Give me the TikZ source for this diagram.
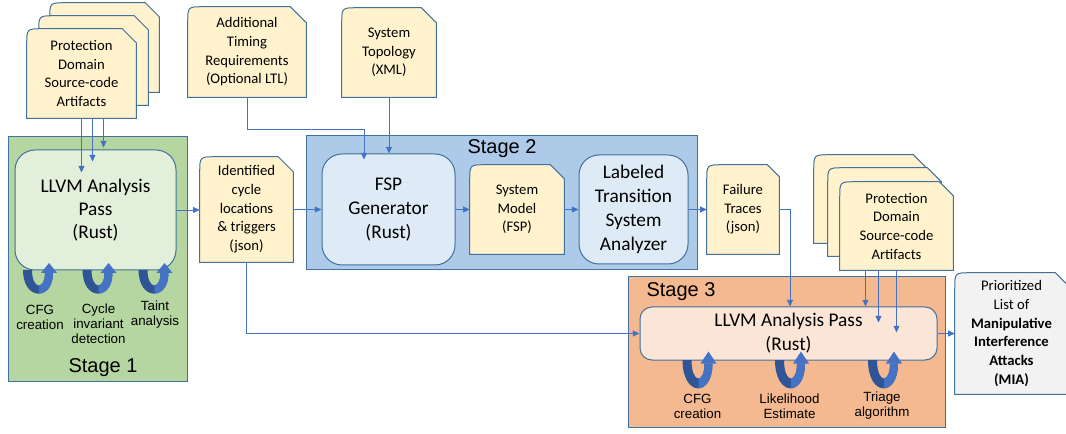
\documentclass[tikz,border=0pt]{standalone}
\usepackage{fontspec}
\setmainfont{Carlito}
\newfontfamily\arialf{Liberation Sans}
\usetikzlibrary{arrows.meta,calc}
\definecolor{bord}{HTML}{41719C}
\definecolor{arrc}{HTML}{4472C4}
\definecolor{docf}{HTML}{FFF2CC}
\definecolor{grayf}{HTML}{F2F2F2}
\definecolor{sonef}{HTML}{B5D6A0}
\definecolor{sonein}{HTML}{E2EFDA}
\definecolor{stwof}{HTML}{ADCBE9}
\definecolor{stwoin}{HTML}{DEEBF7}
\definecolor{sthreef}{HTML}{F4B990}
\definecolor{sthreein}{HTML}{FBE5D6}
\definecolor{ldark}{HTML}{2F5597}
\definecolor{llight}{HTML}{4472C4}
\pgfdeclarelayer{stagelayer}
\pgfdeclarelayer{doclayer}
\pgfsetlayers{stagelayer,doclayer,main}
\newcommand\docfont{\fontsize{11}{14}\selectfont}
\newcommand\bigfont{\fontsize{14.5}{17.5}\selectfont}
\newcommand\midfont{\fontsize{14.5}{18}\selectfont}
\newcommand\docoutline[3]{%
  \draw[docline,fill=#2] (#1.south west) -- ($(#1.north west)+(0,16)$) .. controls (#1.north west) .. ($(#1.north west)+(16,0)$) -- ($(#1.north east)+(-#3,0)$) -- ($(#1.north east)+(0,#3)$) -- (#1.south east) -- cycle;}
\tikzset{
  docline/.style={draw=bord,line width=0.75pt},
  doc/.style={rectangle,inner sep=0pt,align=center,font=\docfont},
  rbox/.style={rectangle,draw=bord,line width=0.75pt,rounded corners=15pt,inner sep=0pt,align=center,font=\midfont},
  stagebox/.style={rectangle,draw=bord,line width=0.75pt,inner sep=0pt},
  stagelbl/.style={font=\arialf\fontsize{15}{18}\selectfont,inner sep=0pt},
  looplbl/.style={font=\arialf\fontsize{10}{11.25}\selectfont,align=center,inner sep=0pt},
  arr/.style={draw=arrc,line width=0.6pt,-{Triangle[length=5pt,width=4.5pt]}},
  uturn/.pic={
    \fill[ldark] (-17,0) .. controls (-17,31) and (13,31) .. (13,3) -- (5,3) .. controls (5,20) and (-8,20) .. (-8,0) -- cycle;
    \begin{scope}
      \clip (-1,-10) rectangle (30,40);
      \fill[llight] (-17,0) .. controls (-17,31) and (13,31) .. (13,3) -- (5,3) .. controls (5,20) and (-8,20) .. (-8,0) -- cycle;
    \end{scope}
    \fill[llight] (1,3) -- (17,3) -- (9,-7) -- cycle;
  }
}
\begin{document}
\begin{tikzpicture}[x=0.75pt,y=-0.75pt]
\useasboundingbox (0,0) rectangle (1066,434);

% stage containers
\begin{pgfonlayer}{stagelayer}
\node[stagebox,fill=sonef,minimum width=134.25pt,minimum height=183pt] (stage1) at (97.5,259) {};
\node[stagebox,fill=stwof,minimum width=293.25pt,minimum height=100.5pt] (stage2) at (501.5,203) {};
\node[stagebox,fill=sthreef,minimum width=237.75pt,minimum height=112.5pt] (stage3) at (786.5,352) {};
\end{pgfonlayer}

\node[stagelbl] (s1lbl) at (103,368) {Stage 1};
\node[stagelbl] (s2lbl) at (502,149) {Stage 2};
\node[stagelbl] (s3lbl) at (681,292) {Stage 3};

% document nodes
\node[doc,minimum width=81.75pt,minimum height=66.75pt] (prot1c) at (104.5,47.5) {};
\node[doc,minimum width=81.75pt,minimum height=66.75pt] (prot1b) at (93.5,60.5) {};
\node[doc,minimum width=81.75pt,minimum height=66.75pt,text depth=-4pt] (prot1) at (81.5,73.5) {Protection\\Domain\\Source-code\\Artifacts};
\node[doc,minimum width=88.5pt,minimum height=67.5pt] (timing) at (247,52) {Additional\\Timing\\Requirements\\(Optional LTL)};
\node[doc,minimum width=70.5pt,minimum height=66.75pt] (topo) at (389,52.5) {System\\Topology\\(XML)};
\node[doc,minimum width=69.75pt,minimum height=78.75pt] (ident) at (246.5,209.5) {Identified\\cycle\\locations\\\& triggers\\(json)};
\node[doc,minimum width=70.5pt,minimum height=66.75pt] (sysmodel) at (517,209.5) {System\\Model\\(FSP)};
\node[doc,minimum width=54pt,minimum height=66.75pt] (failure) at (743,209.5) {Failure\\Traces\\(json)};
\node[doc,minimum width=84.75pt,minimum height=66pt] (prot2c) at (870.5,199) {};
\node[doc,minimum width=84.75pt,minimum height=66pt] (prot2b) at (884.5,212) {};
\node[doc,minimum width=84.75pt,minimum height=66pt] (prot2) at (896.5,226) {Protection\\Domain\\Source-code\\Artifacts};
\node[doc,minimum width=84.75pt,minimum height=90.75pt] (prior) at (1011.5,333.5) {Prioritized\\List of\\\textbf{Manipulative}\\\textbf{Interference}\\\textbf{Attacks}\\\textbf{(MIA)}};

\begin{pgfonlayer}{doclayer}
\docoutline{prot1c}{docf}{14}
\docoutline{prot1b}{docf}{14}
\docoutline{prot1}{docf}{14}
\docoutline{timing}{docf}{16}
\docoutline{topo}{docf}{15}
\docoutline{ident}{docf}{15}
\docoutline{sysmodel}{docf}{14}
\docoutline{failure}{docf}{12}
\docoutline{prot2c}{docf}{14}
\docoutline{prot2b}{docf}{14}
\docoutline{prot2}{docf}{14}
\docoutline{prior}{grayf}{13}
\end{pgfonlayer}

% process boxes
\node[rbox,fill=sonein,font=\bigfont,minimum width=120.75pt,minimum height=90pt] (llvm1) at (95.5,210) {LLVM Analysis\\Pass\\(Rust)};
\node[rbox,fill=stwoin,minimum width=99.75pt,minimum height=83.25pt] (fsp) at (388.5,209.5) {FSP\\Generator\\(Rust)};
\node[rbox,fill=stwoin,minimum width=81.75pt,minimum height=81.75pt] (ltsa) at (633.5,209.5) {Labeled\\Transition\\System\\Analyzer};
\node[rbox,fill=sthreein,rounded corners=9pt,minimum width=222.75pt,minimum height=39.75pt] (llvm3) at (788.5,333.5) {LLVM Analysis Pass\\(Rust)};

% loops
\pic at (40,270) {uturn};
\pic at (99.5,270) {uturn};
\pic at (155.5,270) {uturn};
\pic[yscale=1.2] at (699.5,360) {uturn};
\pic[yscale=1.2] at (792,360) {uturn};
\pic[yscale=1.2] at (885,360) {uturn};

\node[looplbl] (l1a) at (40,317) {CFG\\creation};
\node[looplbl] (l1b) at (98.5,324) {Cycle\\invariant\\detection};
\node[looplbl] (l1c) at (155,315) {Taint\\analysis};
\node[looplbl] (l3a) at (697.5,406) {CFG\\creation};
\node[looplbl] (l3b) at (789.5,406) {Likelihood\\Estimate};
\node[looplbl] (l3c) at (882,406) {Triage\\algorithm};

% connectors
\draw[arr] (llvm1.east) -- (llvm1.east -| ident.west);
\draw[arr] (ident.east) -- (ident.east -| fsp.west);
\draw[arr] (fsp.east) -- (fsp.east -| sysmodel.west);
\draw[arr] (sysmodel.east) -- (sysmodel.east -| ltsa.west);
\draw[arr] (ltsa.east) -- (ltsa.east -| failure.west);
\coordinate (ftx) at (790,0);
\draw[arr] (failure.east) -| (llvm3.north -| ftx);
\draw[arr] (ident.south) |- (llvm3.west);
\draw[arr] (llvm3.east) -- (llvm3.east -| prior.west);
\coordinate (tjx) at (364,129);
\draw[arr] (timing.south) |- (tjx) -- ($(fsp.north -| tjx)+(0,6)$);
\draw[arr] (topo.south) -- (topo.south |- fsp.north);
\draw[arr] (prot1.south) -- ($(prot1.south |- llvm1.north)+(0,23)$);
\draw[arr] ($(prot1.south)+(11,0)$) -- ($(prot1.south |- llvm1.north)+(11,12)$);
\draw[arr] ($(prot1.south)+(22,0)$) -- ($(prot1.south |- llvm1.north)+(22,-2)$);
\draw[arr] ($(prot2.south)+(-31,0)$) -- ($(prot2.south |- llvm3.north)+(-31,0)$);
\draw[arr] ($(prot2.south)+(-18,0)$) -- ($(prot2.south |- llvm3.north)+(-18,16)$);
\draw[arr] (prot2.south) -- ($(prot2.south |- llvm3.north)+(0,26)$);
\end{tikzpicture}
\end{document}
